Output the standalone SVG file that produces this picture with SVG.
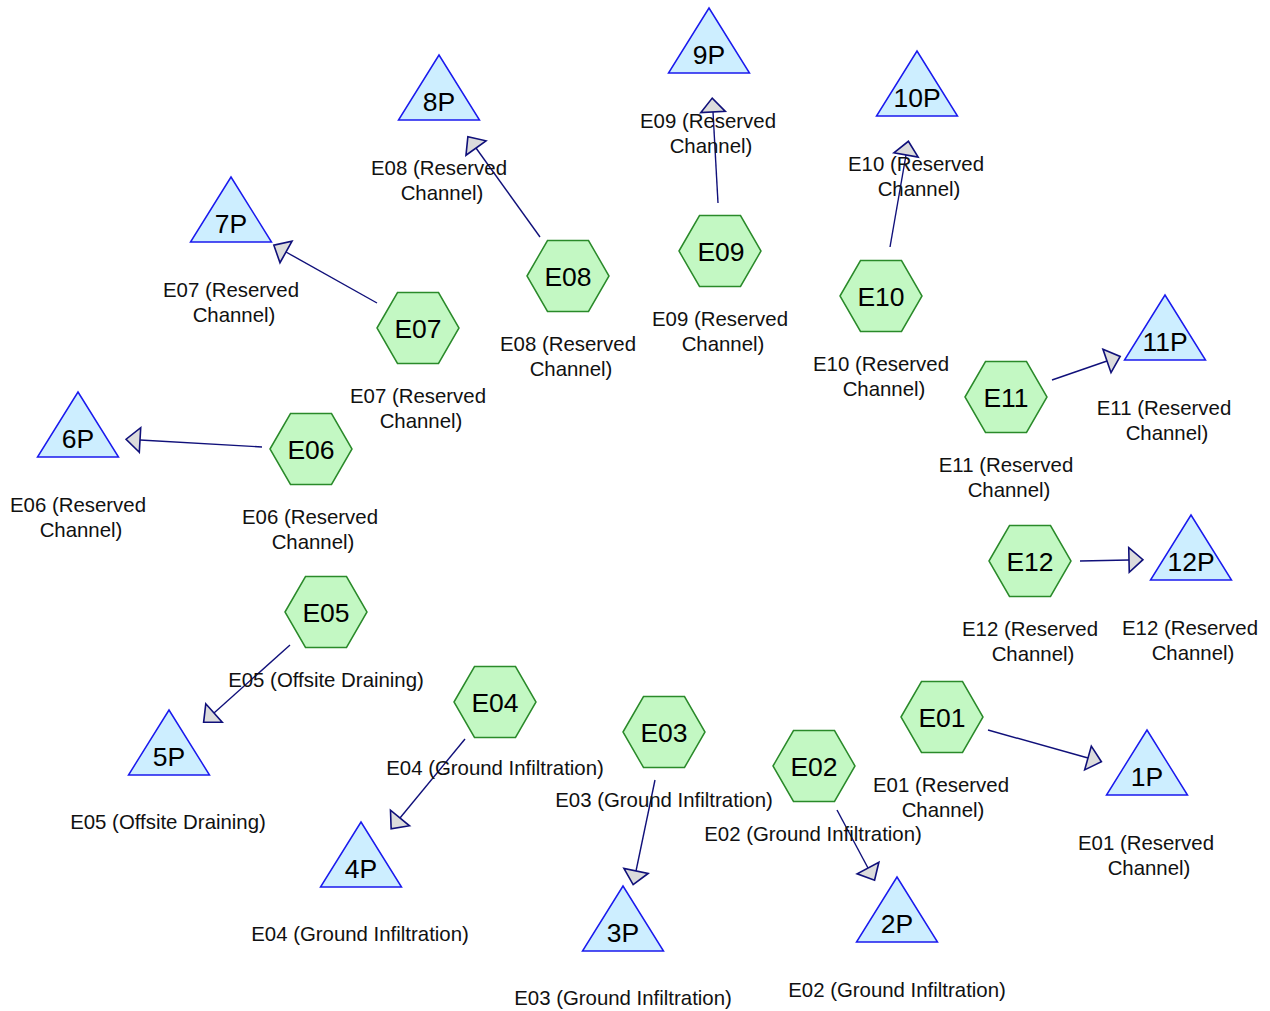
<svg xmlns="http://www.w3.org/2000/svg" width="1270" height="1011" viewBox="0 0 1270 1011">
<style>
.hex{fill:#c3f8c3;stroke:#2a8a2a;stroke-width:1.5}
.tri{fill:#cdeeff;stroke:#1a1aee;stroke-width:1.5}
.nl{font-family:"Liberation Sans",Arial,sans-serif;font-size:26.5px;text-anchor:middle;fill:#000}
.lb{font-family:"Liberation Sans",Arial,sans-serif;font-size:20.4px;text-anchor:middle;fill:#111}
.edge{stroke:#10107a;stroke-width:1.4;fill:none;marker-end:url(#arr)}
</style>
<defs>
<marker id="arr" markerUnits="userSpaceOnUse" markerWidth="30" markerHeight="30" refX="0" refY="0" orient="auto" viewBox="-2 -14 18 28" overflow="visible">
<path d="M0,-11.5 L13,0 L0,11.5 Z" fill="#dcdcdc" stroke="#10107a" stroke-width="1.5" stroke-linejoin="miter"/>
</marker>
<polygon id="hx" points="-41,0 -20.5,-35.5 20.5,-35.5 41,0 20.5,35.5 -20.5,35.5"/>
<polygon id="tr" points="0,0 40.5,65 -40.5,65"/>
</defs>
<rect width="1270" height="1011" fill="#fff"/>
<g id="connectors">
<line class="edge" x1="988" y1="730" x2="1088" y2="758"/>
<line class="edge" x1="837" y1="810" x2="868" y2="868"/>
<line class="edge" x1="655" y1="780" x2="636" y2="871"/>
<line class="edge" x1="465" y1="739" x2="400" y2="818"/>
<line class="edge" x1="290" y1="645" x2="214" y2="713"/>
<line class="edge" x1="262" y1="447" x2="140" y2="440"/>
<line class="edge" x1="377" y1="303" x2="286" y2="252"/>
<line class="edge" x1="540" y1="237" x2="476" y2="148"/>
<line class="edge" x1="718" y1="203" x2="713" y2="112"/>
<line class="edge" x1="890" y1="247" x2="906" y2="155"/>
<line class="edge" x1="1052" y1="380" x2="1107" y2="361"/>
<line class="edge" x1="1080" y1="561" x2="1129" y2="560"/>
</g>
<g id="E01"><use href="#hx" class="hex" x="942" y="717"/><text class="nl" x="942" y="727">E01</text><text class="lb" x="941" y="792">E01 (Reserved</text><text class="lb" x="943" y="817">Channel)</text></g>
<g id="E02"><use href="#hx" class="hex" x="814" y="766"/><text class="nl" x="814" y="776">E02</text><text class="lb" x="813" y="841">E02 (Ground Infiltration)</text></g>
<g id="E03"><use href="#hx" class="hex" x="664" y="732"/><text class="nl" x="664" y="742">E03</text><text class="lb" x="664" y="807">E03 (Ground Infiltration)</text></g>
<g id="E04"><use href="#hx" class="hex" x="495" y="702"/><text class="nl" x="495" y="712">E04</text><text class="lb" x="495" y="775">E04 (Ground Infiltration)</text></g>
<g id="E05"><use href="#hx" class="hex" x="326" y="612"/><text class="nl" x="326" y="622">E05</text><text class="lb" x="326" y="687">E05 (Offsite Draining)</text></g>
<g id="E06"><use href="#hx" class="hex" x="311" y="449"/><text class="nl" x="311" y="459">E06</text><text class="lb" x="310" y="524">E06 (Reserved</text><text class="lb" x="313" y="549">Channel)</text></g>
<g id="E07"><use href="#hx" class="hex" x="418" y="328"/><text class="nl" x="418" y="338">E07</text><text class="lb" x="418" y="403">E07 (Reserved</text><text class="lb" x="421" y="428">Channel)</text></g>
<g id="E08"><use href="#hx" class="hex" x="568" y="276"/><text class="nl" x="568" y="286">E08</text><text class="lb" x="568" y="351">E08 (Reserved</text><text class="lb" x="571" y="376">Channel)</text></g>
<g id="E09"><use href="#hx" class="hex" x="720" y="251"/><text class="nl" x="721" y="261">E09</text><text class="lb" x="720" y="326">E09 (Reserved</text><text class="lb" x="723" y="351">Channel)</text></g>
<g id="E10"><use href="#hx" class="hex" x="881" y="296"/><text class="nl" x="881" y="306">E10</text><text class="lb" x="881" y="371">E10 (Reserved</text><text class="lb" x="884" y="396">Channel)</text></g>
<g id="E11"><use href="#hx" class="hex" x="1006" y="397"/><text class="nl" x="1006" y="407">E11</text><text class="lb" x="1006" y="472">E11 (Reserved</text><text class="lb" x="1009" y="497">Channel)</text></g>
<g id="E12"><use href="#hx" class="hex" x="1030" y="561"/><text class="nl" x="1030" y="571">E12</text><text class="lb" x="1030" y="636">E12 (Reserved</text><text class="lb" x="1033" y="661">Channel)</text></g>
<g id="P1"><use href="#tr" class="tri" x="1147" y="730"/><text class="nl" x="1147" y="786">1P</text><text class="lb" x="1146" y="850">E01 (Reserved</text><text class="lb" x="1149" y="875">Channel)</text></g>
<g id="P2"><use href="#tr" class="tri" x="897" y="877"/><text class="nl" x="897" y="933">2P</text><text class="lb" x="897" y="997">E02 (Ground Infiltration)</text></g>
<g id="P3"><use href="#tr" class="tri" x="623" y="886"/><text class="nl" x="623" y="942">3P</text><text class="lb" x="623" y="1005">E03 (Ground Infiltration)</text></g>
<g id="P4"><use href="#tr" class="tri" x="361" y="822"/><text class="nl" x="361" y="878">4P</text><text class="lb" x="360" y="941">E04 (Ground Infiltration)</text></g>
<g id="P5"><use href="#tr" class="tri" x="169" y="710"/><text class="nl" x="169" y="766">5P</text><text class="lb" x="168" y="829">E05 (Offsite Draining)</text></g>
<g id="P6"><use href="#tr" class="tri" x="78" y="392"/><text class="nl" x="78" y="448">6P</text><text class="lb" x="78" y="512">E06 (Reserved</text><text class="lb" x="81" y="537">Channel)</text></g>
<g id="P7"><use href="#tr" class="tri" x="231" y="177"/><text class="nl" x="231" y="233">7P</text><text class="lb" x="231" y="297">E07 (Reserved</text><text class="lb" x="234" y="322">Channel)</text></g>
<g id="P8"><use href="#tr" class="tri" x="439" y="55"/><text class="nl" x="439" y="111">8P</text><text class="lb" x="439" y="175">E08 (Reserved</text><text class="lb" x="442" y="200">Channel)</text></g>
<g id="P9"><use href="#tr" class="tri" x="709" y="8"/><text class="nl" x="709" y="64">9P</text><text class="lb" x="708" y="128">E09 (Reserved</text><text class="lb" x="711" y="153">Channel)</text></g>
<g id="P10"><use href="#tr" class="tri" x="917" y="51"/><text class="nl" x="917" y="107">10P</text><text class="lb" x="916" y="171">E10 (Reserved</text><text class="lb" x="919" y="196">Channel)</text></g>
<g id="P11"><use href="#tr" class="tri" x="1165" y="295"/><text class="nl" x="1165" y="351">11P</text><text class="lb" x="1164" y="415">E11 (Reserved</text><text class="lb" x="1167" y="440">Channel)</text></g>
<g id="P12"><use href="#tr" class="tri" x="1191" y="515"/><text class="nl" x="1191" y="571">12P</text><text class="lb" x="1190" y="635">E12 (Reserved</text><text class="lb" x="1193" y="660">Channel)</text></g>
</svg>
